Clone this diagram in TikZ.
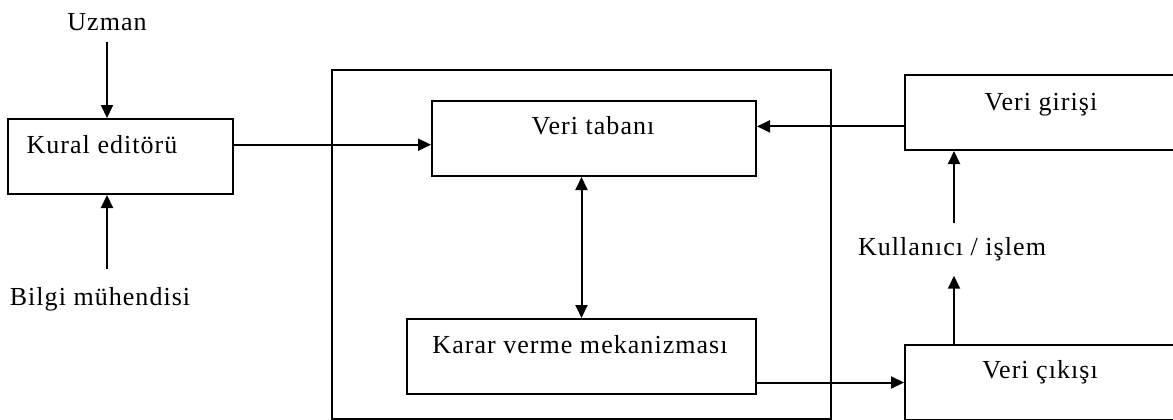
\documentclass[tikz,border=0pt]{standalone}
\usepackage{fontspec}
\setmainfont{Liberation Serif}[LetterSpace=4]
\usetikzlibrary{arrows.meta,calc}
\begin{document}
\begin{tikzpicture}[x=1bp,y=-1bp,
  box/.style={draw, line width=2bp, rectangle, inner sep=0, anchor=north west},
  lbl/.style={inner sep=0, anchor=base, font=\fontsize{26bp}{31bp}\selectfont},
  link/.style={line width=2bp},
  arr/.style={link, -{Triangle[length=13bp,width=12bp]}},
  darr/.style={link, {Triangle[length=13bp,width=12bp]}-{Triangle[length=13bp,width=12bp]}}]
\useasboundingbox (0,0) rectangle (1173,419);
\clip (0,0) rectangle (1173,419);

% outer frame around the system core
\node[box, minimum width=499bp, minimum height=349bp] (system) at (331,69) {};

% boxes
\node[box, minimum width=225bp, minimum height=75bp] (kural) at (7,118) {};
\node[box, minimum width=324bp, minimum height=75bp] (vt) at (431,100) {};
\node[box, minimum width=349bp, minimum height=75bp] (karar) at (406,318) {};
\node[box, minimum width=290bp, minimum height=75bp] (giris) at (904,74) {};
\node[box, minimum width=290bp, minimum height=75bp] (cikis) at (904,344) {};

% texts
\node[lbl] (kuralt) at (102,153) {Kural editörü};
\node[lbl] (vtt) at (593,134) {Veri tabanı};
\node[lbl] (karart) at (580,353) {Karar verme mekanizması};
\node[lbl] (girist) at (1041,110) {Veri girişi};
\node[lbl] (cikist) at (1040,378) {Veri çıkışı};
\node[lbl] (uzman) at (107,30) {Uzman};
\node[lbl] (bilgi) at (100,305) {Bilgi mühendisi};
\node[lbl] (kull) at (952,255) {Kullanıcı / işlem};

% connectors
\draw[arr, shorten <=12bp] (uzman.south) -- (uzman.south |- kural.north);
\draw[arr, shorten <=18bp] ([xshift=7bp]bilgi.north) -- ([xshift=7bp]bilgi.north |- kural.south);
\coordinate (kout) at ($(kural.north east)!0.347!(kural.south east)$);
\draw[arr] (kout) -- (kout -| vt.west);
\coordinate (gout) at ($(giris.north west)!0.68!(giris.south west)$);
\draw[arr] (gout) -- (gout -| vt.east);
\draw[darr] (karar.north) -- (karar.north |- vt.south);
\draw[arr] (cikis.west -| karar.east) -- (cikis.west);
\draw[arr, shorten >=15bp] ([xshift=2bp]kull.south |- cikis.north) -- ([xshift=2bp]kull.south);
\draw[arr, shorten <=14bp] ([xshift=2bp]kull.north) -- ([xshift=2bp]kull.north |- giris.south);
\end{tikzpicture}
\end{document}
